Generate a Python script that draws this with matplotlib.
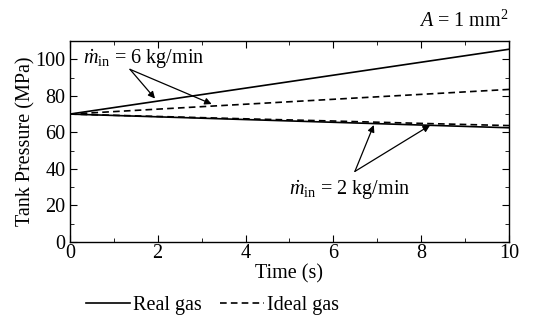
import matplotlib
matplotlib.use('Agg')
import matplotlib.pyplot as plt
import numpy as np

plt.rcParams['font.family'] = 'Liberation Serif'
plt.rcParams['mathtext.fontset'] = 'custom'
plt.rcParams['mathtext.rm'] = 'Liberation Serif'
plt.rcParams['mathtext.it'] = 'Liberation Serif:italic'

# pressure curves (MPa)
time = [0, 2, 4, 6, 8, 10]
real_6 = [70, 77.1, 84.2, 91.3, 98.4, 105.5]
ideal_6 = [70, 72.7, 75.4, 78.1, 80.8, 83.5]
real_2 = [70, 68.5, 67.0, 65.5, 64.0, 62.5]
ideal_2 = [70, 68.7, 67.4, 66.2, 64.9, 63.7]

fs = 14.5

fig = plt.figure(figsize=(5.41, 3.23), dpi=100)
ax = fig.add_axes([0.129, 0.251, 0.812, 0.622])

l1, = ax.plot(time, real_6, color='black', lw=1.2, label='Real gas')
l2, = ax.plot(time, ideal_6, color='black', lw=1.2, ls=(0, (4, 2.5)), label='Ideal gas')
ax.plot(time, real_2, color='black', lw=1.2)
ax.plot(time, ideal_2, color='black', lw=1.2, ls=(0, (4, 2.5)))

ax.set_xlim(0, 10)
ax.set_ylim(0, 110)
ax.set_xticks(np.arange(0, 11, 2))
ax.set_xticks(np.arange(1, 10, 2), minor=True)
ax.set_yticks(np.arange(0, 101, 20))
ax.set_yticks(np.arange(10, 110, 20), minor=True)
ax.tick_params(which='both', direction='in', top=True, right=True, labelsize=fs)
ax.tick_params(axis='x', pad=1.5)
ax.tick_params(axis='y', pad=3)
ax.tick_params(which='major', length=5)
ax.tick_params(which='minor', length=3)
for s in ax.spines.values():
    s.set_linewidth(1.0)

ax.set_xlabel('Time (s)', fontsize=fs, labelpad=1)
ax.set_ylabel('Tank Pressure (MPa)', fontsize=fs, labelpad=0)

arrow = dict(arrowstyle='-|>', color='black', lw=0.9, mutation_scale=10, shrinkA=0, shrinkB=0)
ax.text(0.3, 100, r'$\dot{m}_{\rm in}$ = 6 kg/min', fontsize=fs, va='center')
ax.annotate('', xy=(1.94, 78.5), xytext=(1.37, 94.5), arrowprops=arrow)
ax.annotate('', xy=(3.23, 75.5), xytext=(1.37, 94.5), arrowprops=arrow)
ax.text(5.0, 28.5, r'$\dot{m}_{\rm in}$ = 2 kg/min', fontsize=fs, va='center')
ax.annotate('', xy=(6.92, 64.0), xytext=(6.49, 38.6), arrowprops=arrow)
ax.annotate('', xy=(8.2, 63.8), xytext=(6.49, 38.6), arrowprops=arrow)

fig.text(0.94, 0.935, r'$A$ = 1 mm$^2$', fontsize=fs, ha='right', va='center')

fig.legend(handles=[l1, l2], loc='center left', bbox_to_anchor=(0.125, 0.055), ncol=2,
           frameon=False, fontsize=fs, handlelength=2.2, handletextpad=0.15, columnspacing=0.9)

fig.savefig('out.png', dpi=100)
